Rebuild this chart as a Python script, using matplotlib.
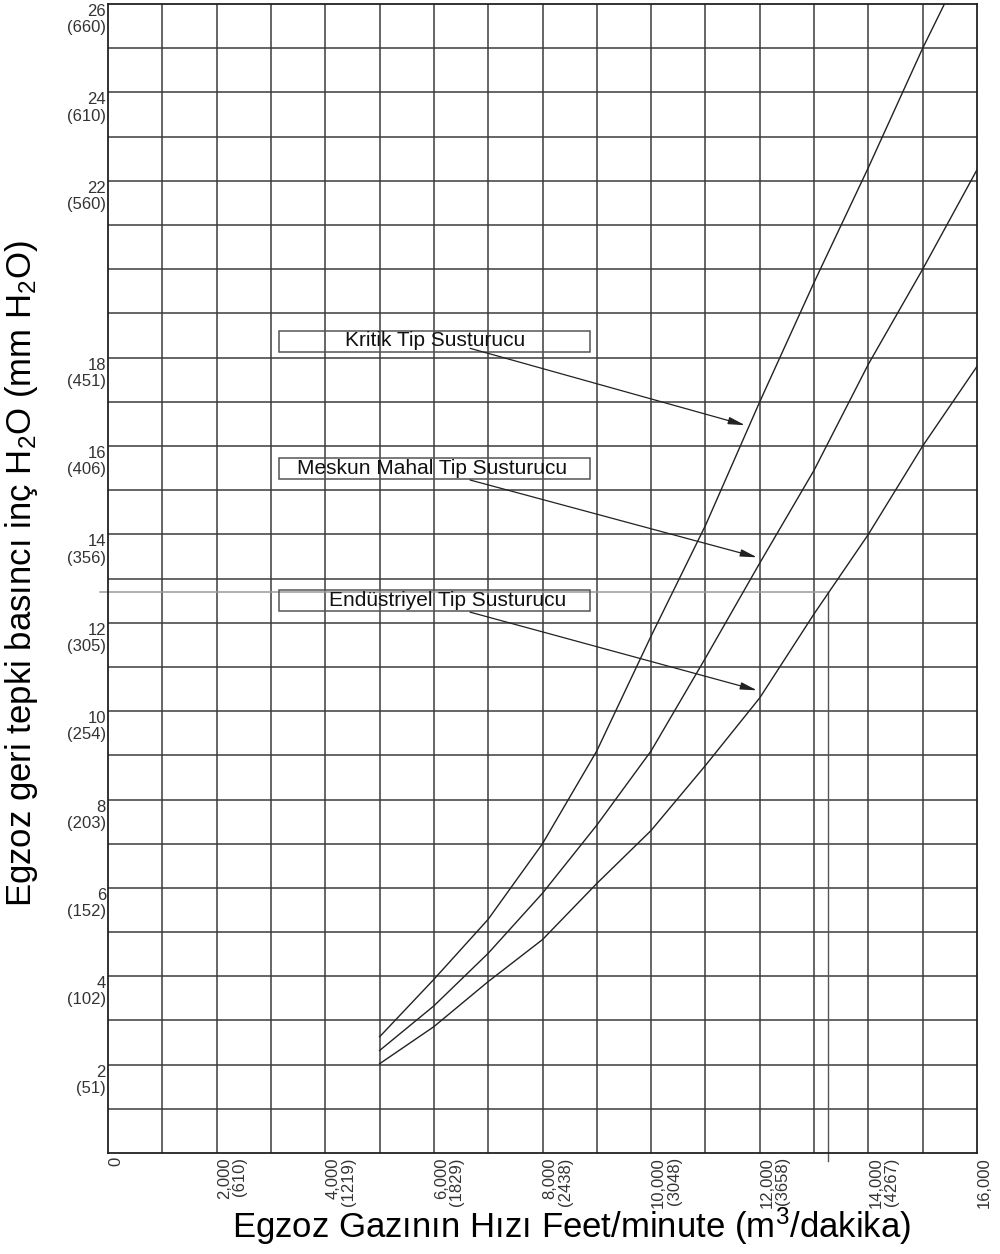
import matplotlib
matplotlib.use('Agg')
import matplotlib.pyplot as plt
from matplotlib.patches import Rectangle

plt.rcParams['font.family'] = ['Liberation Sans', 'DejaVu Sans']
plt.rcParams['mathtext.fontset'] = 'custom'
plt.rcParams['mathtext.rm'] = 'Liberation Sans'
plt.rcParams['mathtext.it'] = 'Liberation Sans'

# hız (feet/minute)
hiz = [5000, 6000, 7000, 8000, 9000, 10000, 11000, 12000, 13000, 14000, 15000, 16000]
hiz_kritik = [5000, 6000, 7000, 8000, 9000, 10000, 11000, 12000, 13000, 14000, 15000, 15400]

kritik = [2.63, 3.93, 5.29, 7.0, 9.1, 11.7, 14.2, 17.0, 19.7, 22.3, 25.0, 26.0]
meskun = [2.32, 3.33, 4.52, 5.88, 7.42, 9.1, 11.2, 13.35, 15.45, 17.85, 20.0, 22.25]
endustriyel = [2.02, 2.86, 3.88, 4.83, 6.1, 7.3, 8.77, 10.3, 12.2, 14.0, 16.0, 17.8]

# okunan nokta
ref_x = 13250
ref_y = 12.7

y_ticks = [2, 4, 6, 8, 10, 12, 14, 16, 18, 22, 24, 26]
y_labels = ['2\n(51)', '4\n(102)', '6\n(152)', '8\n(203)', '10\n(254)', '12\n(305)',
            '14\n(356)', '16\n(406)', '18\n(451)', '22\n(560)', '24\n(610)', '26\n(660)']
x_ticks = [0, 2000, 4000, 6000, 8000, 10000, 12000, 14000, 16000]
x_labels = ['0', '2,000\n(610)', '4,000\n(1219)', '6,000\n(1829)', '8,000\n(2438)',
            '10,000\n(3048)', '12,000\n(3658)', '14,000\n(4267)', '16,000']

etiketler = ['Kritik Tip Susturucu', 'Meskun Mahal Tip Susturucu', 'Endüstriyel Tip Susturucu']

fig = plt.figure(figsize=(10, 12.54), dpi=100)
ax = fig.add_axes([0.108, 0.0805, 0.869, 0.9163])
ax.set_xlim(0, 16000)
ax.set_ylim(0, 26)

# grid
for gx in range(1000, 16000, 1000):
    ax.axvline(gx, color='#3c3c3c', lw=1.1, zorder=1)
for gy in range(1, 26):
    ax.axhline(gy, color='#3c3c3c', lw=1.1, zorder=1)

# reference lines
ax.plot([-150, ref_x], [ref_y, ref_y], color='#9a9a9a', lw=1.1, clip_on=False, zorder=1)
ax.plot([ref_x, ref_x], [ref_y, -0.17], color='#555555', lw=1.0, clip_on=False, zorder=1)

ax.plot(hiz_kritik, kritik, color='#222222', lw=1.0, zorder=3)
ax.plot(hiz, meskun, color='#222222', lw=1.0, zorder=3)
ax.plot(hiz, endustriyel, color='#222222', lw=1.0, zorder=3)

# label boxes and arrows
kutu_y = [18.13, 15.25, 12.26]
yazi_x = [6021, 5966, 6260]
ok_bas = [(6665, 18.21), (6665, 15.23), (6665, 12.24)]
ok_son = [(11729, 16.47), (11950, 13.48), (11950, 10.47)]
for i in range(3):
    ax.add_patch(Rectangle((3149, kutu_y[i]), 5725, 0.475, fill=False,
                           edgecolor='#555555', lw=1.1, zorder=4))
    ax.text(yazi_x[i], kutu_y[i] + 0.25, etiketler[i], ha='center', va='center',
            fontsize=15, color='#111111', zorder=5)
    ax.annotate('', xy=ok_son[i], xytext=ok_bas[i],
                arrowprops=dict(arrowstyle='-|>,head_length=1.0,head_width=0.22',
                                color='#222222', lw=0.9, shrinkA=0, shrinkB=0), zorder=5)

ax.set_yticks(y_ticks)
ax.set_yticklabels(y_labels, fontsize=12, color='#333333', linespacing=1.1)
for lbl in ax.get_yticklabels():
    lbl.set_verticalalignment('top')
ax.set_xticks(x_ticks)
ax.set_xticklabels(x_labels, fontsize=12, color='#333333', rotation=90,
                   ha='left', va='top', multialignment='right', linespacing=1.05)
ax.tick_params(axis='both', length=0)
ax.tick_params(axis='y', pad=1.5)
ax.tick_params(axis='x', pad=3)

for s in ax.spines.values():
    s.set_color('#222222')
    s.set_linewidth(1.3)

ax.set_xlabel('Egzoz Gazının Hızı Feet/minute (m$^\\mathregular{3}$/dakika)', fontsize=25)
ax.xaxis.set_label_coords(0.534, -0.046)
ax.set_ylabel('Egzoz geri tepki basıncı inç H$_\\mathregular{2}$O (mm H$_\\mathregular{2}$O)', fontsize=25)
ax.yaxis.set_label_coords(-0.078, 0.504)

fig.savefig('out.png', dpi=100)
